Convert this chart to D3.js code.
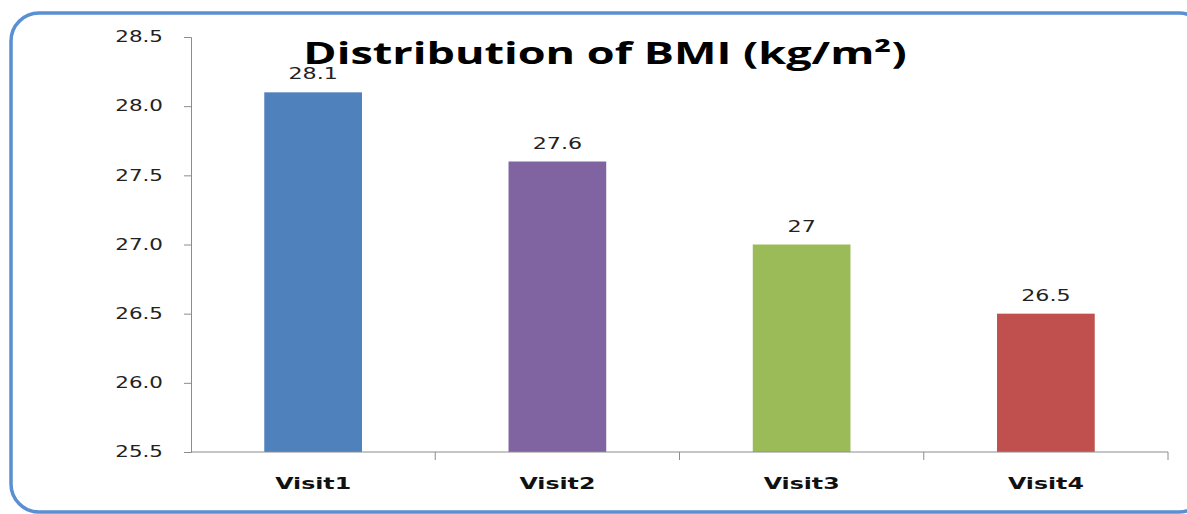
<!DOCTYPE html>
<html lang="en">
<head>
<meta charset="UTF-8">
<title>Distribution of BMI</title>
<script src="https://d3js.org/d3.v7.min.js"></script>
<style>
    body { margin: 0; background: #fff; overflow: hidden; }
    .yaxis .tick text { font: 15px "DejaVu Sans", sans-serif; fill: #222; }
    .cat { font: bold 16px "DejaVu Sans", sans-serif; fill: #111; }
    .value { font: 15px "DejaVu Sans", sans-serif; fill: #222; }
    .title { font: bold 30px "Open Sans", sans-serif; fill: #000; }
</style>
</head>
<body>
<div id="chart"></div>
<script>
    var visits = ["Visit1", "Visit2", "Visit3", "Visit4"];
    var bmi = [28.1, 27.6, 27.0, 26.5];
    var valueLabels = ["28.1", "27.6", "27", "26.5"];
    var colors = ["#4f81bd", "#8064a2", "#9bbb59", "#c0504d"];
    var yTicks = [25.5, 26.0, 26.5, 27.0, 27.5, 28.0, 28.5];

    var width = 1187, height = 514;
    var margin = { top: 37, right: 19, bottom: 62, left: 191 };
    var stretch = 1.48; // the source image is wider than tall, text looks stretched

    var svg = d3.select("#chart").append("svg")
        .attr("width", width)
        .attr("height", height);

    // rounded frame, running off the right edge
    svg.append("rect")
        .attr("x", 11).attr("y", 13)
        .attr("width", 1196).attr("height", 499)
        .attr("rx", 28)
        .attr("fill", "none")
        .attr("stroke", "#5a8fd2")
        .attr("stroke-width", 3.5);

    var x = d3.scaleBand()
        .domain(visits)
        .range([margin.left, width - margin.right])
        .paddingInner(0.6)
        .paddingOuter(0.3);

    var y = d3.scaleLinear()
        .domain([25.5, 28.5])
        .range([height - margin.bottom, margin.top]);

    // helper: text drawn at (px,py), stretched horizontally around its anchor
    function stretched(sel, px, py) {
        return sel.attr("transform", function(d, i) {
            return "translate(" + px(d, i) + "," + py(d, i) + ") scale(" + stretch + ",1)";
        });
    }

    svg.selectAll("rect.bar")
        .data(bmi)
        .enter().append("rect")
        .attr("class", "bar")
        .attr("x", function(d, i) { return x(visits[i]); })
        .attr("width", x.bandwidth())
        .attr("y", function(d) { return y(d); })
        .attr("height", function(d) { return y(25.5) - y(d); })
        .attr("fill", function(d, i) { return colors[i]; });

    stretched(svg.selectAll("text.value")
        .data(bmi)
        .enter().append("text")
        .attr("class", "value")
        .attr("text-anchor", "middle")
        .text(function(d, i) { return valueLabels[i]; }),
        function(d, i) { return x(visits[i]) + x.bandwidth() / 2; },
        function(d) { return y(d) - 13; });

    // y axis
    var yAxis = svg.append("g")
        .attr("class", "yaxis")
        .attr("transform", "translate(" + margin.left + ",0)")
        .call(d3.axisLeft(y).tickValues(yTicks).tickFormat(d3.format(".1f"))
            .tickSize(7).tickSizeOuter(7).tickPadding(28));
    yAxis.selectAll(".tick text")
        .attr("transform", "scale(1.43,1)")
        .attr("x", -28 / 1.43);
    yAxis.selectAll(".domain, .tick line").attr("stroke", "#8c8c8c");

    // x axis with ticks at category boundaries
    var band = d3.scaleLinear().domain([0, visits.length])
        .range([margin.left, width - margin.right]);
    var xAxis = svg.append("g")
        .attr("transform", "translate(0," + (height - margin.bottom) + ")");
    xAxis.append("path")
        .attr("d", "M" + band(0) + ",0H" + band(visits.length))
        .attr("stroke", "#8c8c8c")
        .attr("fill", "none");
    xAxis.selectAll("line.sep")
        .data(d3.range(1, visits.length + 1))
        .enter().append("line")
        .attr("class", "sep")
        .attr("x1", function(d) { return band(d); })
        .attr("x2", function(d) { return band(d); })
        .attr("y1", 0).attr("y2", 8)
        .attr("stroke", "#8c8c8c");
    stretched(xAxis.selectAll("text.cat")
        .data(visits)
        .enter().append("text")
        .attr("class", "cat")
        .attr("text-anchor", "middle")
        .text(function(d) { return d; }),
        function(d) { return x(d) + x.bandwidth() / 2; },
        function() { return 37; });

    svg.append("text")
        .attr("class", "title")
        .attr("text-anchor", "middle")
        .attr("transform", "translate(605,64) scale(1.5,1)")
        .text("Distribution of BMI (kg/m²)");
</script>
</body>
</html>
